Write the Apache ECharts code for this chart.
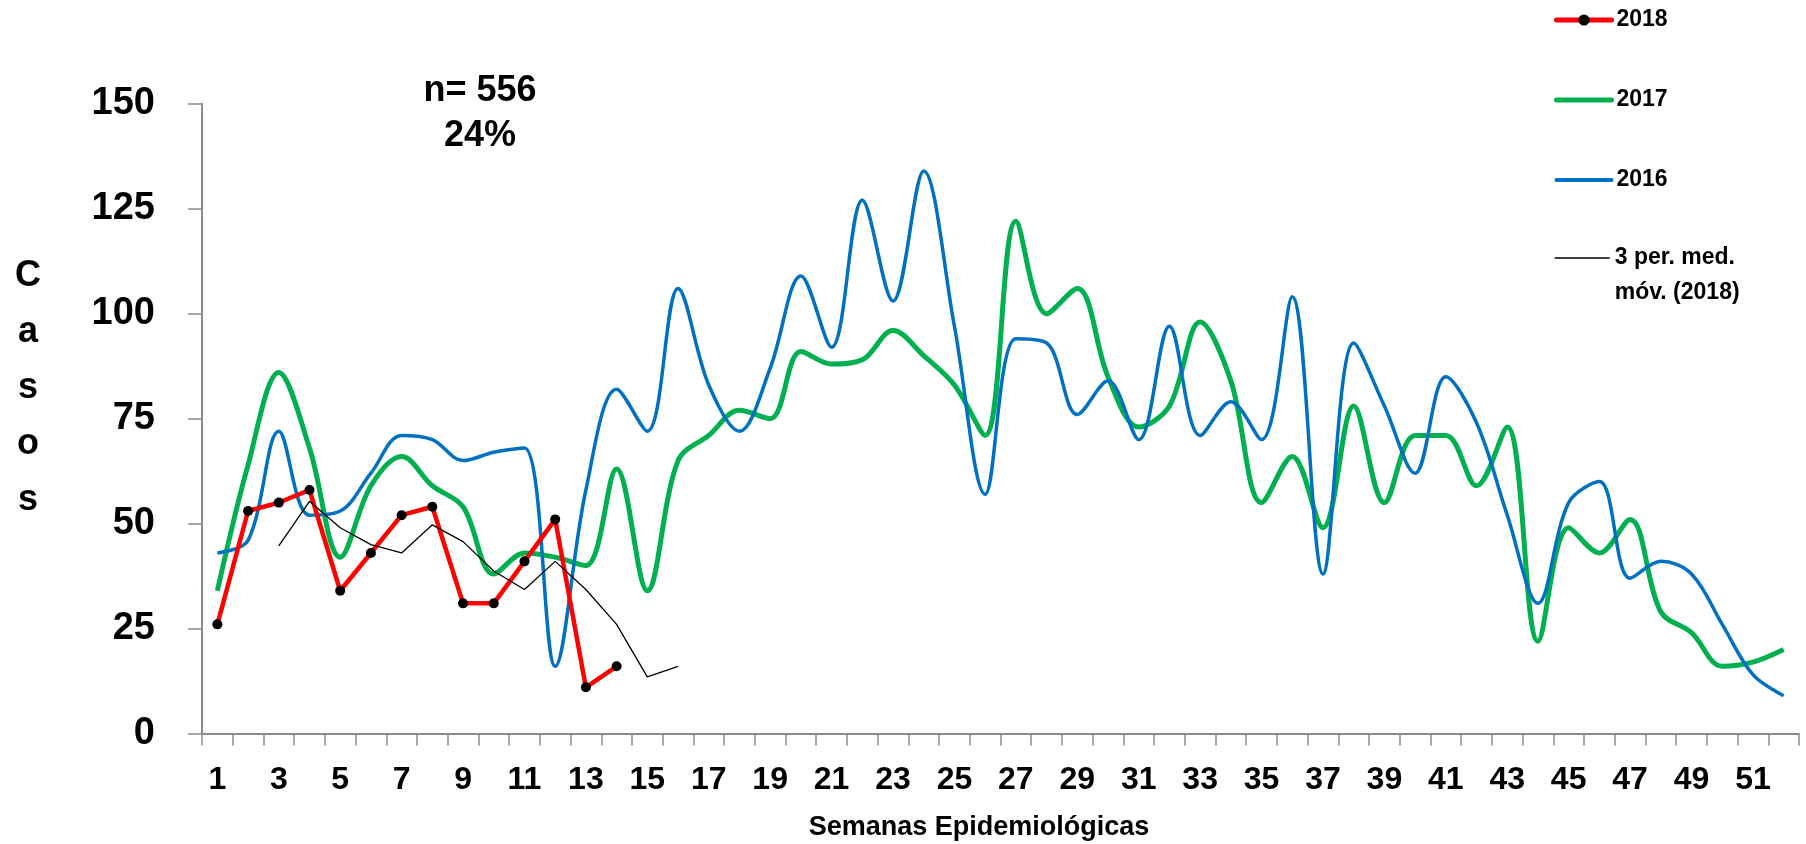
<!DOCTYPE html>
<html>
<head>
<meta charset="utf-8">
<script src="https://cdn.jsdelivr.net/npm/echarts@6/dist/echarts.min.js"></script>
<style>
  html, body { margin: 0; padding: 0; background: #ffffff; }
  #chart { width: 1806px; height: 844px; }
</style>
</head>
<body>
<div id="chart"></div>
<script>
// Semanas epidemiológicas (eje X)
const weeks = ['1','2','3','4','5','6','7','8','9','10','11','12','13','14','15','16','17','18','19','20',
  '21','22','23','24','25','26','27','28','29','30','31','32','33','34','35','36','37','38','39','40',
  '41','42','43','44','45','46','47','48','49','50','51','52'];

// Casos por semana
const casos2018 = [26, 53, 55, 58, 34, 43, 52, 54, 31, 31, 41, 51, 11, 16];
const casos2017 = [34, 64, 86, 68, 42, 59, 66, 59, 54, 38, 43, 42, 40, 63, 34, 65, 71, 77, 75, 91,
  88, 89, 96, 90, 83, 71, 122, 100, 106, 85, 73, 78, 98, 84, 55, 66, 49, 78, 55, 71,
  71, 59, 73, 22, 49, 43, 51, 29, 24, 16, 17, 20];
const casos2016 = [43, 46, 72, 52, 53, 62, 71, 70, 65, 67, 68, 16, 58, 82, 72, 106, 83, 72, 87, 109,
  92, 127, 103, 134, 97, 57, 94, 93, 76, 84, 70, 97, 71, 79, 70, 104, 38, 93, 78, 62,
  85, 74, 52, 31, 55, 60, 37, 41, 38, 26, 14, 9];
// Media móvil de 3 periodos (2018)
const mediaMovil2018 = [null, null, 44.7, 55.3, 49, 45, 43, 49.7, 45.7, 38.7, 34.3, 41, 34.3, 26, 13.5, 16];

// Escala del eje Y
const yMin = 0, yMax = 150, yStep = 25;

const FONT = '"Liberation Sans", Arial, sans-serif';
const AXIS_GRAY = '#8c8c8c';
const MA_NAME = '3 per. med. móv. (2018)';
const RED = '#FF0000', GREEN = '#00B050', BLUE = '#0070C0';

const chart = echarts.init(document.getElementById('chart'), null, { renderer: 'canvas' });

const legendText = { fontSize: 23, fontWeight: 'bold', color: '#000', fontFamily: FONT };

const option = {
  animation: false,
  backgroundColor: '#ffffff',
  grid: { left: 202, right: 7, top: 103.75, bottom: 110.5, containLabel: false },
  xAxis: {
    type: 'category',
    data: weeks,
    boundaryGap: true,
    axisLine: { show: true, lineStyle: { color: AXIS_GRAY, width: 2 } },
    axisTick: { show: true, interval: 0, length: 12, inside: false, lineStyle: { color: AXIS_GRAY, width: 1.5 } },
    axisLabel: { interval: 1, margin: 31, fontSize: 32, fontWeight: 'bold', color: '#000', fontFamily: FONT },
    splitLine: { show: false }
  },
  yAxis: {
    type: 'value',
    min: yMin, max: yMax, interval: yStep,
    axisLine: { show: true, lineStyle: { color: AXIS_GRAY, width: 2 } },
    axisTick: { show: true, length: 14, inside: false, lineStyle: { color: AXIS_GRAY, width: 1.5 } },
    axisLabel: { margin: 47, fontSize: 38, fontWeight: 'bold', color: '#000', fontFamily: FONT },
    splitLine: { show: false }
  },
  legend: [
    {
      data: [
        { name: '2018', lineStyle: { width: 5, color: RED, cap: 'round' }, itemStyle: { color: '#000' } },
        { name: '2017', lineStyle: { width: 5, color: GREEN, cap: 'round' }, itemStyle: { opacity: 0 } },
        { name: '2016', lineStyle: { width: 4, color: BLUE, cap: 'round' }, itemStyle: { opacity: 0 } }
      ],
      orient: 'vertical',
      left: 1554, top: 6, padding: 0,
      itemWidth: 55, itemHeight: 14, itemGap: 52,
      selectedMode: false,
      textStyle: Object.assign({ lineHeight: 28 }, legendText)
    },
    {
      data: [
        { name: MA_NAME, lineStyle: { width: 1.5, color: '#000' }, itemStyle: { opacity: 0 } }
      ],
      orient: 'vertical',
      left: 1554, top: 205.5, padding: 0,
      itemWidth: 55, itemHeight: 14,
      selectedMode: false,
      // blank first line keeps the icon level with "3 per. med."
      formatter: () => ' \n3 per. med.\nmóv. (2018)',
      textStyle: Object.assign({ lineHeight: 35 }, legendText)
    }
  ],
  graphic: [
    {
      type: 'text', x: 28, y: 388,
      style: { text: 'C\na\ns\no\ns', font: 'bold 36px ' + FONT, fill: '#000', align: 'center', verticalAlign: 'middle', lineHeight: 56 }
    },
    {
      type: 'text', x: 480, y: 113.5,
      style: { text: 'n= 556\n24%', font: 'bold 36px ' + FONT, fill: '#000', align: 'center', verticalAlign: 'middle', lineHeight: 45 }
    },
    {
      type: 'text', x: 979, y: 828,
      style: { text: 'Semanas Epidemiológicas', font: 'bold 27px ' + FONT, fill: '#000', align: 'center', verticalAlign: 'middle' }
    }
  ],
  series: [
    {
      name: '2017', type: 'line', data: casos2017, smooth: 0.35, symbol: 'none', z: 2,
      lineStyle: { color: GREEN, width: 5 }, itemStyle: { color: GREEN },
      emphasis: { disabled: true }
    },
    {
      name: '2016', type: 'line', data: casos2016, smooth: 0.35, symbol: 'none', z: 3,
      lineStyle: { color: BLUE, width: 3.5 }, itemStyle: { color: BLUE },
      emphasis: { disabled: true }
    },
    {
      name: '2018', type: 'line', data: casos2018, smooth: false, symbol: 'circle', symbolSize: 10, z: 4,
      lineStyle: { color: RED, width: 4.5 }, itemStyle: { color: '#000000' },
      emphasis: { disabled: true }
    },
    {
      name: MA_NAME, type: 'line', data: mediaMovil2018, smooth: false, symbol: 'none', z: 5,
      lineStyle: { color: '#000000', width: 1.3 }, itemStyle: { color: '#000000' },
      emphasis: { disabled: true }
    }
  ]
};

chart.setOption(option);
</script>
</body>
</html>
